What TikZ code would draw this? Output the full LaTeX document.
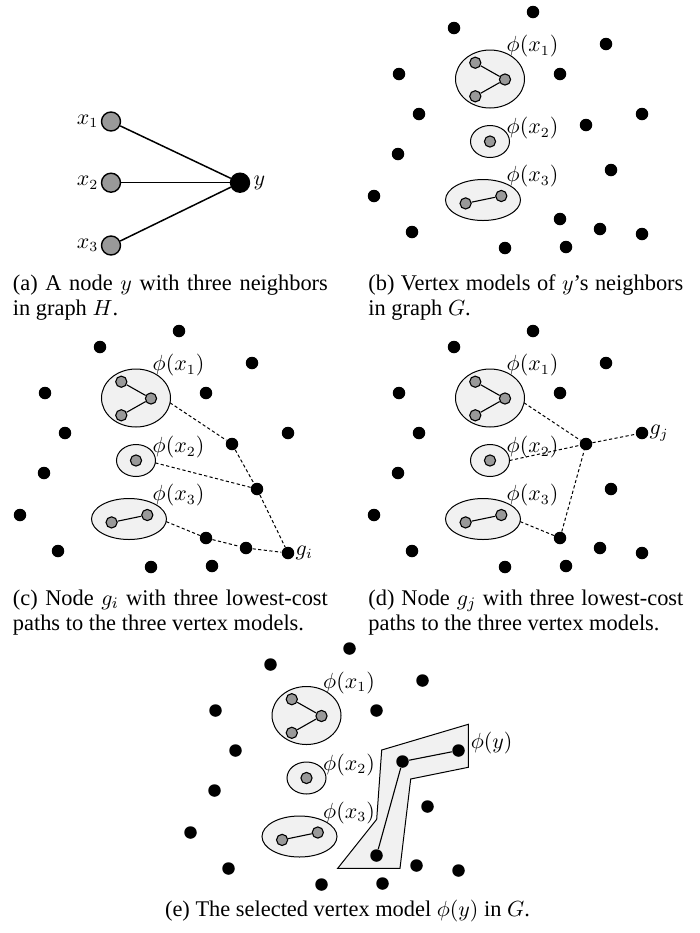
\documentclass[tikz,border=0pt]{standalone}
\usepackage[no-math]{fontspec}
\setmainfont{Liberation Serif}
\usetikzlibrary{shapes.geometric}
\definecolor{nodegray}{RGB}{153,153,153}
\definecolor{modelfill}{RGB}{241,241,241}
\tikzset{
  dot/.style={circle, fill=black, inner sep=0pt, minimum size=6.25pt},
  gdot/.style={circle, draw=black, line width=0.55pt, fill=nodegray, inner sep=0pt, minimum size=5.6pt},
  bignode/.style={circle, draw=black, line width=0.7pt, fill=nodegray, inner sep=0pt, minimum size=9.5pt},
  bigblack/.style={circle, draw=black, line width=0.7pt, fill=black, inner sep=0pt, minimum size=9.5pt},
  model/.style={ellipse, draw=black, line width=0.5pt, fill=modelfill, inner sep=0pt, outer sep=0pt},
  lbl/.style={inner sep=0pt, font=\fontsize{10.6}{12}\selectfont},
  captext/.style={inner sep=0pt, anchor=base west, font=\fontsize{11.2}{12.5}\selectfont},
  costpath/.style={line width=0.5pt, dash pattern=on 1.6pt off 1.2pt},
  inedge/.style={line width=0.55pt},
  aedge/.style={line width=0.75pt},
  phiyshape/.style={draw=black, line width=0.5pt, fill=modelfill}
}
\newcommand\basegraph[1]{%
  \node[model, minimum width=34.5pt, minimum height=29pt] (#1E1) at (136,398) {};
  \node[model, minimum width=19.5pt, minimum height=16pt] (#1E2) at (136,460.5) {};
  \node[model, minimum width=37.5pt, minimum height=20.5pt] (#1E3) at (129,519) {};
  \node[gdot] (#1a1) at (121.3,381.7) {};
  \node[gdot] (#1a2) at (151,398.5) {};
  \node[gdot] (#1a3) at (121.3,415.3) {};
  \node[gdot] (#1b1) at (136,460.5) {};
  \node[gdot] (#1c1) at (111.6,522.4) {};
  \node[gdot] (#1c2) at (147.3,515) {};
  \draw[inedge] (#1a1) -- (#1a2) -- (#1a3);
  \draw[inedge] (#1c1) -- (#1c2);
  \node[lbl] (#1L1) at (178.5,365.5) {$\phi(x_1)$};
  \node[lbl] (#1L2) at (178.5,447.5) {$\phi(x_2)$};
  \node[lbl] (#1L3) at (178.5,495.5) {$\phi(x_3)$};
  \foreach \i/\xx/\yy in {1/179/331, 2/100/347, 3/252/363, 4/45/393, 5/206/393,
      6/65/433, 7/288/433, 8/232/444, 9/44/473, 10/257/489, 11/20/515,
      12/58/551, 13/206/538, 14/246/548, 15/288/553, 16/151/567, 17/212/566}
    {\node[dot] (#1d\i) at (\xx,\yy) {};}
}
\begin{document}
\begin{tikzpicture}[x=0.5pt,y=-0.5pt]
\useasboundingbox (0,0) rectangle (700,933);

% ---------- panel (a)
\node[bignode] (ax1) at (111,121.5) {};
\node[bignode] (ax2) at (111,182.7) {};
\node[bignode] (ax3) at (111,245.5) {};
\node[bigblack] (ay) at (240,182.7) {};
\draw[aedge] (ax1) -- (ay);
\draw[aedge] (ax2) -- (ay);
\draw[aedge] (ax3) -- (ay);
\node[lbl, anchor=east] (ax1l) at ([xshift=-1pt]ax1.west) {$x_1$};
\node[lbl, anchor=east] (ax2l) at ([xshift=-1pt]ax2.west) {$x_2$};
\node[lbl, anchor=east] (ax3l) at ([xshift=-1pt]ax3.west) {$x_3$};
\node[lbl, anchor=west] (ayl) at ([xshift=1.5pt]ay.east) {$y$};

% ---------- panel (b)
\begin{scope}[shift={(354,-319)}]
\basegraph{b}
\end{scope}

% ---------- panel (c)
\begin{scope}
\basegraph{c}
\draw[costpath] (cE1.-8) -- (cd8) -- (cd10) -- (cd15);
\draw[costpath] (cE2.-7) -- (cd10);
\draw[costpath] (cE3.-4) -- (cd13) -- (cd14) -- (cd15);
\node[lbl, anchor=west] (cgi) at ([xshift=0.3pt]cd15.east) {$g_i$};
\end{scope}

% ---------- panel (d)
\begin{scope}[shift={(354,0)}]
\basegraph{d}
\draw[costpath] (dE1.-8) -- (dd8) -- (dd7);
\draw[costpath] (dE2.east) -- (dd8);
\draw[costpath] (dE3.-4) -- (dd13) -- (dd8);
\node[lbl, anchor=west] (dgj) at ([xshift=0.3pt]dd7.east) {$g_j$};
\end{scope}

% ---------- panel (e)
\begin{scope}[shift={(170.5,317.5)}]
\draw[phiyshape] (211.2,432.5) -- (297.8,406.8) -- (297.8,449.8) -- (240.2,461.5)
  -- (229.5,550.8) -- (167.2,550.8) -- (206.2,501.8) -- cycle;
\basegraph{e}
\draw[inedge] (ed13) -- (ed8) -- (ed7);
\node[lbl, anchor=west] (ephiy) at (300,426) {$\phi(y)$};
\end{scope}

% ---------- captions
\node[captext] (capa1) at (12.5,290) {\makebox[157.5pt][s]{(a) A node $y$ with three neighbors}};
\node[captext] (capa2) at (12.5,315) {in graph $H$.};
\node[captext] (capb1) at (368,290) {\makebox[157.5pt][s]{(b) Vertex models of $y$'s neighbors}};
\node[captext] (capb2) at (368,315) {in graph $G$.};
\node[captext] (capc1) at (12.5,605) {\makebox[157.5pt][s]{(c) Node $g_i$ with three lowest-cost}};
\node[captext] (capc2) at (12.5,630) {paths to the three vertex models.};
\node[captext] (capd1) at (368,605) {\makebox[157.5pt][s]{(d) Node $g_j$ with three lowest-cost}};
\node[captext] (capd2) at (368,630) {paths to the three vertex models.};
\node[captext, anchor=base] (cape) at (347.5,916.7) {(e) The selected vertex model $\phi(y)$ in $G$.};
\end{tikzpicture}
\end{document}
